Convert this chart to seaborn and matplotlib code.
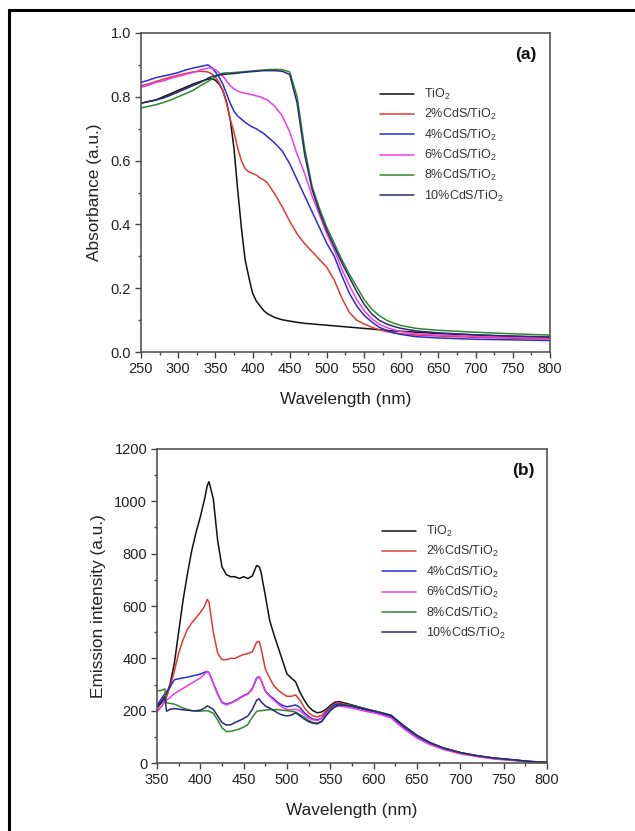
import numpy as np
import pandas as pd
import matplotlib
matplotlib.use("Agg")
import matplotlib.pyplot as plt
from matplotlib.lines import Line2D
from matplotlib.ticker import MultipleLocator
import seaborn as sns

# ---- (a) UV-vis absorbance ----
wl_a = [250, 260, 270, 280, 290, 300, 310, 320, 330, 340,
        345, 350, 355, 360, 365, 370, 375, 380, 385, 390, 395, 400, 405, 410, 415, 420,
        430, 440, 450, 460, 470, 480, 490, 500, 510, 520, 530, 540, 550, 560, 570, 580, 590, 600,
        620, 650, 700, 750, 800]
abs_tio2 = [0.780, 0.785, 0.790, 0.800, 0.810, 0.820, 0.830, 0.840, 0.848, 0.855,
            0.857, 0.852, 0.840, 0.820, 0.785, 0.730, 0.640, 0.510, 0.390, 0.290, 0.235, 0.185, 0.160, 0.145, 0.130, 0.120,
            0.108, 0.101, 0.097, 0.093, 0.090, 0.088, 0.086, 0.084, 0.082, 0.080, 0.078, 0.076, 0.074, 0.072, 0.070, 0.068, 0.066, 0.065,
            0.062, 0.058, 0.053, 0.049, 0.046]
abs_2 = [0.835, 0.840, 0.848, 0.855, 0.862, 0.868, 0.873, 0.878, 0.880, 0.878,
         0.872, 0.862, 0.845, 0.820, 0.780, 0.730, 0.690, 0.640, 0.600, 0.575, 0.565, 0.560, 0.555, 0.545, 0.540, 0.530,
         0.495, 0.455, 0.410, 0.370, 0.340, 0.315, 0.290, 0.265, 0.225, 0.170, 0.125, 0.100, 0.088, 0.078, 0.070, 0.064, 0.060, 0.057,
         0.053, 0.050, 0.046, 0.043, 0.041]
abs_4 = [0.845, 0.852, 0.860, 0.865, 0.870, 0.876, 0.884, 0.890, 0.895, 0.900,
         0.892, 0.878, 0.862, 0.840, 0.810, 0.780, 0.755, 0.740, 0.730, 0.720, 0.712, 0.705, 0.700, 0.692, 0.685, 0.675,
         0.655, 0.630, 0.590, 0.540, 0.490, 0.440, 0.390, 0.340, 0.300, 0.240, 0.185, 0.145, 0.115, 0.095, 0.078, 0.068, 0.060, 0.055,
         0.048, 0.044, 0.040, 0.038, 0.036]
abs_6 = [0.830, 0.836, 0.845, 0.850, 0.858, 0.864, 0.870, 0.876, 0.884, 0.890,
         0.890, 0.885, 0.876, 0.865, 0.850, 0.835, 0.825, 0.818, 0.814, 0.811, 0.809, 0.806, 0.803, 0.800, 0.795, 0.790,
         0.770, 0.740, 0.690, 0.620, 0.560, 0.490, 0.430, 0.370, 0.320, 0.260, 0.210, 0.165, 0.130, 0.105, 0.088, 0.077, 0.070, 0.064,
         0.057, 0.053, 0.049, 0.046, 0.044]
abs_8 = [0.765, 0.770, 0.775, 0.782, 0.790, 0.800, 0.810, 0.820, 0.835, 0.848,
         0.855, 0.862, 0.870, 0.874, 0.875, 0.875, 0.876, 0.877, 0.878, 0.879, 0.880, 0.881, 0.882, 0.883, 0.884, 0.885,
         0.886, 0.885, 0.878, 0.800, 0.640, 0.520, 0.450, 0.390, 0.340, 0.290, 0.245, 0.205, 0.165, 0.135, 0.115, 0.100, 0.090, 0.083,
         0.074, 0.068, 0.062, 0.057, 0.053]
abs_10 = [0.780, 0.785, 0.790, 0.796, 0.805, 0.815, 0.825, 0.835, 0.845, 0.858,
          0.863, 0.866, 0.868, 0.870, 0.871, 0.872, 0.873, 0.874, 0.876, 0.877, 0.878, 0.879, 0.880, 0.881, 0.882, 0.882,
          0.882, 0.880, 0.870, 0.780, 0.620, 0.510, 0.440, 0.380, 0.330, 0.280, 0.235, 0.190, 0.150, 0.120, 0.100, 0.088, 0.080, 0.074,
          0.066, 0.060, 0.054, 0.050, 0.047]

# ---- (b) PL emission ----
wl_b = [350, 355, 359, 361, 365, 370, 375, 380, 385, 390, 395, 400, 405, 408, 410, 415, 420, 425, 430, 435,
        440, 445, 450, 455, 460, 465, 468, 470, 475, 480, 485, 490, 495, 500, 505, 510, 515, 520, 525, 530,
        535, 540, 545, 550, 555, 560, 575, 590, 605, 620, 635, 650, 665, 680, 700, 720, 740, 760, 780, 800]
pl_tio2 = [210, 230, 250, 262, 300, 380, 500, 620, 720, 810, 880, 940, 1010, 1060, 1075, 1010, 850, 750, 720, 712,
           712, 705, 712, 705, 715, 755, 750, 730, 640, 545, 490, 440, 390, 340, 325, 310, 270, 240, 215, 200,
           192, 195, 205, 220, 232, 235, 222, 208, 195, 182, 140, 105, 78, 58, 40, 27, 18, 12, 5, 2]
pl_2 = [200, 215, 240, 252, 290, 350, 420, 470, 510, 535, 555, 575, 600, 625, 615, 500, 420, 395, 395, 400,
        400, 408, 415, 418, 425, 462, 465, 440, 360, 325, 295, 278, 265, 255, 255, 260, 240, 212, 192, 180,
        176, 182, 198, 215, 225, 230, 218, 205, 193, 180, 138, 102, 76, 56, 38, 26, 17, 11, 5, 2]
pl_4 = [220, 245, 265, 272, 290, 318, 322, 325, 328, 332, 336, 340, 347, 350, 345, 305, 265, 232, 225, 230,
        238, 248, 258, 265, 285, 325, 330, 318, 275, 258, 245, 230, 220, 215, 218, 222, 212, 192, 178, 168,
        165, 172, 192, 210, 222, 226, 216, 203, 192, 178, 136, 100, 74, 55, 38, 26, 17, 12, 6, 2]
pl_6 = [195, 215, 235, 240, 250, 265, 275, 285, 295, 305, 315, 325, 340, 350, 345, 305, 262, 230, 222, 228,
        236, 246, 256, 263, 282, 322, 330, 318, 275, 255, 240, 225, 212, 205, 203, 206, 200, 185, 172, 165,
        162, 170, 188, 205, 213, 218, 210, 198, 188, 172, 130, 95, 70, 52, 35, 24, 15, 10, 4, 1]
pl_8 = [275, 278, 283, 230, 228, 225, 218, 210, 205, 200, 198, 198, 200, 200, 198, 190, 165, 135, 120, 121,
        125, 130, 137, 148, 175, 197, 200, 200, 202, 204, 204, 204, 202, 200, 198, 195, 185, 175, 163, 155,
        152, 160, 182, 203, 215, 222, 220, 207, 196, 183, 142, 105, 77, 57, 39, 27, 18, 12, 6, 2]
pl_10 = [215, 235, 255, 198, 205, 208, 206, 203, 202, 200, 200, 202, 210, 218, 215, 205, 180, 155, 145, 146,
         155, 162, 170, 180, 205, 240, 245, 235, 218, 210, 200, 190, 183, 180, 183, 192, 180, 168, 158, 152,
         150, 158, 180, 200, 215, 222, 218, 206, 195, 182, 142, 106, 78, 58, 40, 28, 19, 13, 6, 3]

labels = ["TiO$_2$", "2%CdS/TiO$_2$", "4%CdS/TiO$_2$", "6%CdS/TiO$_2$", "8%CdS/TiO$_2$", "10%CdS/TiO$_2$"]
colors = ["#111111", "#e03a32", "#2b2bd8", "#ee3bee", "#2c8a2c", "#2a2a72"]

sns.set_style("ticks")
plt.rcParams["font.family"] = ["Liberation Sans", "DejaVu Sans"]
plt.rcParams["mathtext.fontset"] = "custom"
plt.rcParams["mathtext.rm"] = "Liberation Sans"
plt.rcParams["mathtext.it"] = "Liberation Sans:italic"
plt.rcParams["mathtext.bf"] = "Liberation Sans:bold"

fig = plt.figure(figsize=(6.35, 8.31), dpi=100)
ax1 = fig.add_axes([0.2220, 0.5764, 0.6441, 0.3839])
ax2 = fig.add_axes([0.2472, 0.0818, 0.6142, 0.3779])

for ys, lab, c in zip([abs_tio2, abs_2, abs_4, abs_6, abs_8, abs_10], labels, colors):
    sns.lineplot(x=wl_a, y=ys, color=c, label=lab, linewidth=1.1, ax=ax1)
for ys, lab, c in zip([pl_tio2, pl_2, pl_4, pl_6, pl_8, pl_10], labels, colors):
    sns.lineplot(x=wl_b, y=ys, color=c, label=lab, linewidth=1.1, ax=ax2)

def style(ax, xlim, ylim, xmaj, ymaj, ylabel, tag, leg_xy):
    ax.set_xlim(*xlim)
    ax.set_ylim(*ylim)
    ax.xaxis.set_major_locator(MultipleLocator(xmaj))
    ax.xaxis.set_minor_locator(MultipleLocator(xmaj / 2))
    ax.yaxis.set_major_locator(MultipleLocator(ymaj))
    ax.yaxis.set_minor_locator(MultipleLocator(ymaj / 2))
    ax.tick_params(which="major", direction="out", length=4.5, width=1, colors="#444444",
                   labelcolor="#222222", labelsize=10.5, pad=2.5, top=False, right=False)
    ax.tick_params(which="minor", direction="out", length=2.5, width=1, colors="#444444",
                   top=False, right=False)
    for sp in ax.spines.values():
        sp.set_visible(True)
        sp.set_color("#555555")
        sp.set_linewidth(1.2)
    ax.set_xlabel("Wavelength (nm)", fontsize=12.4, color="#222222", labelpad=12)
    ax.set_ylabel(ylabel, fontsize=12.4, color="#222222", labelpad=6)
    ax.text(0.968, 0.933, tag, transform=ax.transAxes, ha="right", va="center",
            fontsize=12.5, fontweight="bold", color="#111111")
    ax.legend(loc="upper left", bbox_to_anchor=leg_xy, frameon=False, fontsize=9,
              handlelength=2.7, handletextpad=0.85, labelspacing=0.42,
              borderpad=0, borderaxespad=0, labelcolor="#333333")

style(ax1, (250, 800), (0, 1.0), 50, 0.2, "Absorbance (a.u.)", "(a)", (0.584, 0.831))
style(ax2, (350, 800), (0, 1200), 50, 200, "Emission intensity (a.u.)", "(b)", (0.577, 0.761))
ax1.yaxis.set_major_formatter(matplotlib.ticker.FormatStrFormatter("%.1f"))

# page frame (top and left edges)
fig.add_artist(Line2D([0.0137, 1.0], [0.9874, 0.9874], color="black", linewidth=2.2,
                      transform=fig.transFigure))
fig.add_artist(Line2D([0.0137, 0.0137], [0.0, 0.9874], color="black", linewidth=2.2,
                      transform=fig.transFigure))

fig.savefig("out.png", dpi=100)
